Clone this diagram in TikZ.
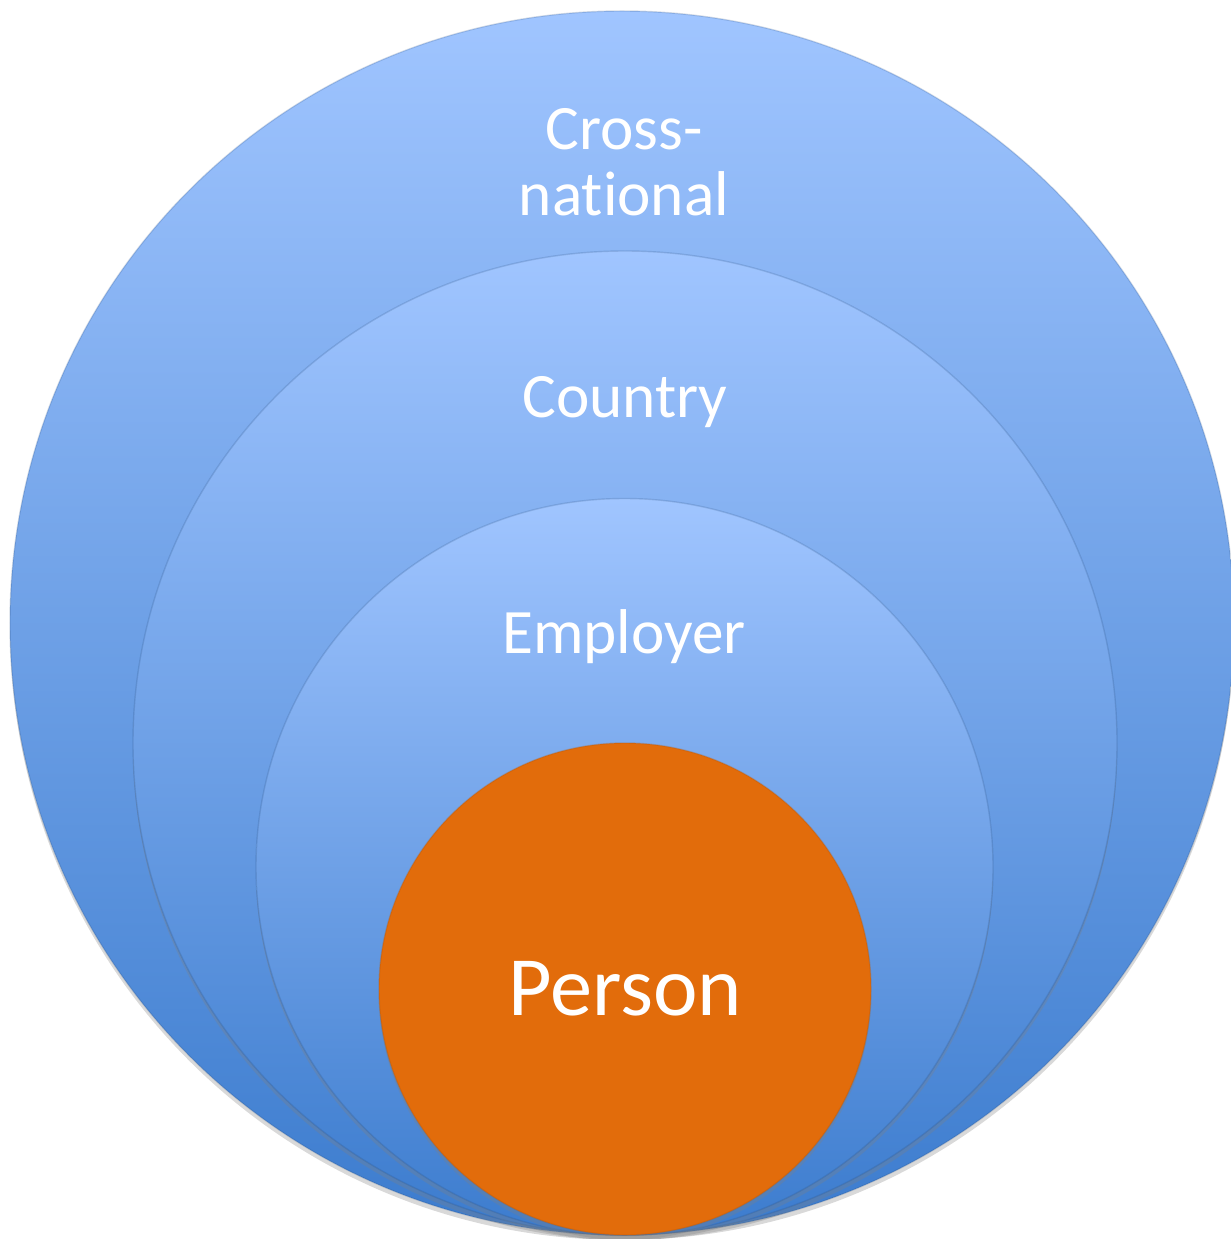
\documentclass[tikz,border=0pt]{standalone}
\usepackage{fontspec}
\setmainfont{Carlito}[Ligatures=NoCommon]
\usepackage{tikz}
\usetikzlibrary{shadows}
\usetikzlibrary{positioning}
\definecolor{skytop}{RGB}{160,197,255}
\definecolor{skybottom}{RGB}{60,124,206}
\definecolor{personfill}{RGB}{226,108,11}
\tikzstyle{ring}=[circle,inner sep=0pt,top color=skytop,bottom color=skybottom,draw=skybottom!60!black,draw opacity=0.2,line width=0.4pt,drop shadow={opacity=0.3,shadow xshift=0pt,shadow yshift=-0.05cm}]
\tikzstyle{core}=[circle,inner sep=0pt,fill=personfill,draw=personfill!80!black,draw opacity=0.3,line width=0.4pt,drop shadow={opacity=0.3,shadow xshift=0pt,shadow yshift=-0.05cm}]
\tikzstyle{ringlabel}=[text=white,align=center,font=\fontsize{18}{18.7}\selectfont]
\tikzstyle{corelabel}=[text=white,font=\fontsize{24}{28}\selectfont]

\begin{document}
\begin{tikzpicture}
    % page frame, 1px = 0.01cm
    \useasboundingbox (0,0) rectangle (12.30,-12.39);
    % the nested circles, all touching at the bottom
    \foreach \pos/\name/\size in {{(6.22,-6.23)/outer/12.24cm}, {(6.25,-7.43)/country/9.84cm}, {(6.245,-8.67)/employer/7.37cm}}
        \node[ring,minimum size=\size] (\name) at \pos {};
    \node[core,minimum size=4.92cm] (person) at (6.25,-9.89) {};

    % labels
    \node[ringlabel] (crosslabel) at (6.24,-1.62) {Cross-\\national};
    \node[ringlabel] (countrylabel) at (6.25,-4.02) {Country};
    \node[ringlabel] (employerlabel) at (6.24,-6.37) {Employer};
    \node[corelabel] (personlabel) at (6.25,-9.89) {Person};
\end{tikzpicture}
\end{document}
